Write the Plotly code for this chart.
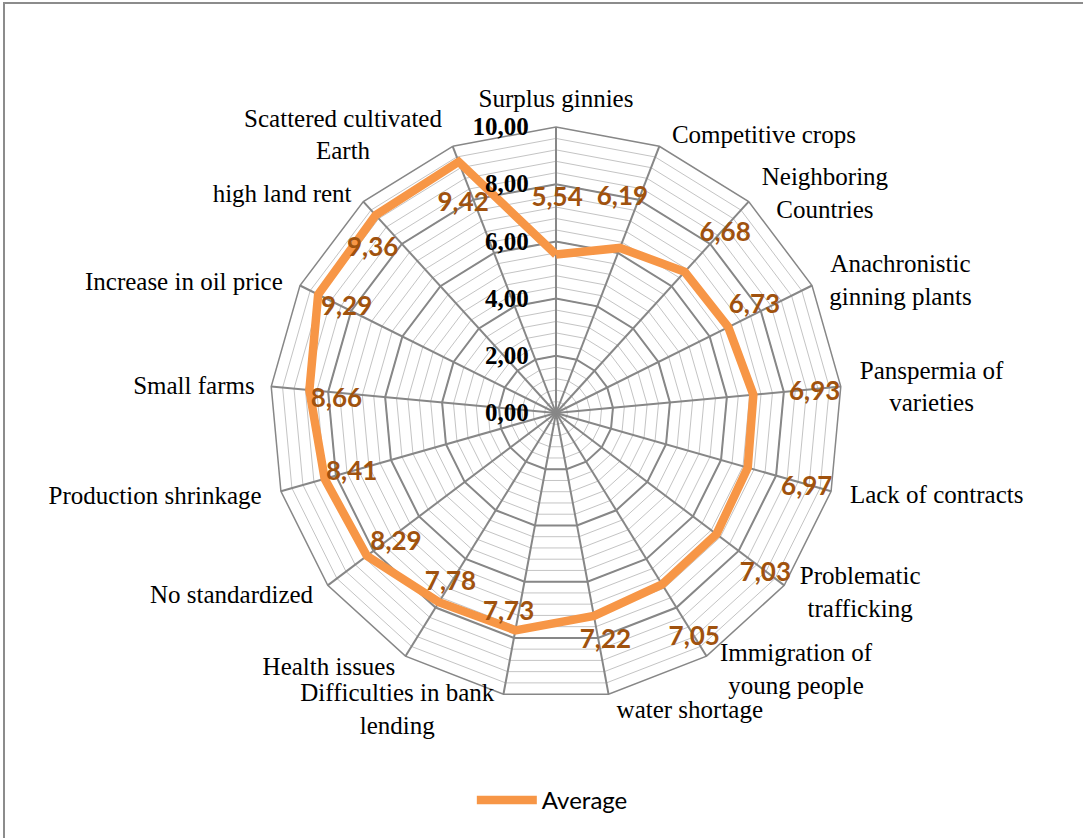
import plotly.graph_objects as go

categories = [
    "Surplus ginnies", "Competitive crops", "Neighboring<br>Countries",
    "Anachronistic<br>ginning plants", "Panspermia of<br>varieties",
    "Lack of contracts", "Problematic<br>trafficking", "Immigration of<br>young people",
    "water shortage", "Difficulties in bank<br>lending", "Health issues",
    "No standardized", "Production shrinkage", "Small farms",
    "Increase in oil price", "high land rent", "Scattered cultivated<br>Earth",
]
average = [5.54, 6.19, 6.68, 6.73, 6.93, 6.97, 7.03, 7.05, 7.22, 7.73, 7.78,
           8.29, 8.41, 8.66, 9.29, 9.36, 9.42]
series_name = "Average"

# value-label placement (polar coords: radius in axis units, degrees clockwise from top)
label_r = [7.46, 7.85, 8.59, 7.88, 9.07, 9.16, 9.24, 9.25, 8.18, 7.20, 7.00,
           7.23, 7.45, 7.69, 8.19, 8.60, 7.98]
label_theta = [0.3, 17.2, 43.5, 61.7, 85.8, 106.8, 127.6, 148.5, 167.8, 193.3,
               211.8, 230.7, 253.5, 273.2, 296.6, 311.8, 336.0]

# category-name placement (same polar coords)
cat_r = [10.91, 12.08, 12.10, 12.88, 13.16, 13.63, 12.38, 12.33, 11.46, 11.82,
         11.96, 13.04, 14.33, 12.69, 13.77, 12.22, 12.19]
cat_theta = [0.0, 37.0, 51.0, 69.25, 86.3, 102.45, 120.8, 137.1, 155.9, 208.0,
             221.6, 240.45, 258.0, 273.95, 289.1, 308.4, 322.35]

W, H = 1083, 838
cx, cy, R = 556, 413, 286
RMAX = 10
RMAX_TXT = 14.4
R3 = R * RMAX_TXT / RMAX


def dom(rad):
    return dict(x=[(cx - rad) / W, (cx + rad) / W],
                y=[(H - (cy + rad)) / H, (H - (cy - rad)) / H])


ORANGE = "#F79646"
LABEL_C = "#A0520E"
GRID_MAJ = "#878787"
GRID_MIN = "#C4C4C4"

minor_ticks = [round(i * 0.4, 2) for i in range(0, 26)]

fig = go.Figure()

# invisible trace to establish the minor-grid polar
fig.add_trace(go.Scatterpolar(
    r=average, theta=categories, mode="lines", line=dict(color="rgba(0,0,0,0)"),
    showlegend=False, hoverinfo="skip", subplot="polar"))

fig.add_trace(go.Scatterpolar(
    r=average + average[:1], theta=categories + categories[:1], mode="lines",
    line=dict(color=ORANGE, width=8.5), name=series_name, subplot="polar2"))

fig.add_trace(go.Scatterpolar(
    r=label_r, theta=label_theta, mode="text",
    text=[f"{v:.2f}".replace(".", ",") for v in average],
    textfont=dict(family="Lato", size=26, color=LABEL_C, weight="bold"),
    showlegend=False, hoverinfo="skip", subplot="polar3", cliponaxis=False))

fig.add_trace(go.Scatterpolar(
    r=cat_r, theta=cat_theta, mode="text", text=categories,
    textposition="middle center",
    textfont=dict(family="Liberation Serif", size=25, color="black"),
    showlegend=False, hoverinfo="skip", subplot="polar3", cliponaxis=False))

common_ang = dict(direction="clockwise", rotation=90)

fig.update_layout(
    width=W, height=H,
    margin=dict(l=0, r=0, t=0, b=0),
    paper_bgcolor="white",
    separators=",.",
    polar=dict(
        domain=dom(R),
        gridshape="linear",
        bgcolor="white",
        angularaxis=dict(categoryarray=categories, type="category",
                         showticklabels=False, ticks="", showgrid=False,
                         showline=False, **common_ang),
        radialaxis=dict(range=[0, RMAX], tickvals=minor_ticks, showticklabels=False,
                        ticks="", showline=False, gridcolor=GRID_MIN, gridwidth=1.3),
    ),
    polar2=dict(
        domain=dom(R),
        gridshape="linear",
        bgcolor="rgba(0,0,0,0)",
        angularaxis=dict(categoryarray=categories, type="category",
                         showticklabels=False, ticks="",
                         gridcolor=GRID_MAJ, gridwidth=1.5,
                         showline=True, linecolor=GRID_MAJ, linewidth=1.5, **common_ang),
        radialaxis=dict(range=[0, RMAX], dtick=2, tickformat=".2f", angle=90,
                        side="counterclockwise", tickangle=90,
                        ticks="outside", ticklen=18, tickcolor="rgba(0,0,0,0)",
                        tickfont=dict(family="Liberation Serif", size=25, color="black",
                                      weight="bold"),
                        showline=False, gridcolor=GRID_MAJ, gridwidth=1.5),
    ),
    polar3=dict(
        domain=dom(R3),
        bgcolor="rgba(0,0,0,0)",
        angularaxis=dict(visible=False, type="linear", thetaunit="degrees", **common_ang),
        radialaxis=dict(visible=False, range=[0, RMAX_TXT]),
    ),
    legend=dict(orientation="h", x=0.51, xanchor="center", y=0.045, yanchor="middle",
                font=dict(family="Lato", size=24, color="black"),
                itemwidth=60, bgcolor="rgba(0,0,0,0)"),
    shapes=[dict(type="rect", xref="paper", yref="paper",
                 x0=4 / W, x1=1.02, y0=-0.02, y1=1 - 3 / H,
                 line=dict(color="#8C8C8C", width=2))],
)

fig.write_html("out.html", config={"displayModeBar": False},
               post_script="document.body.style.margin='0px';")
